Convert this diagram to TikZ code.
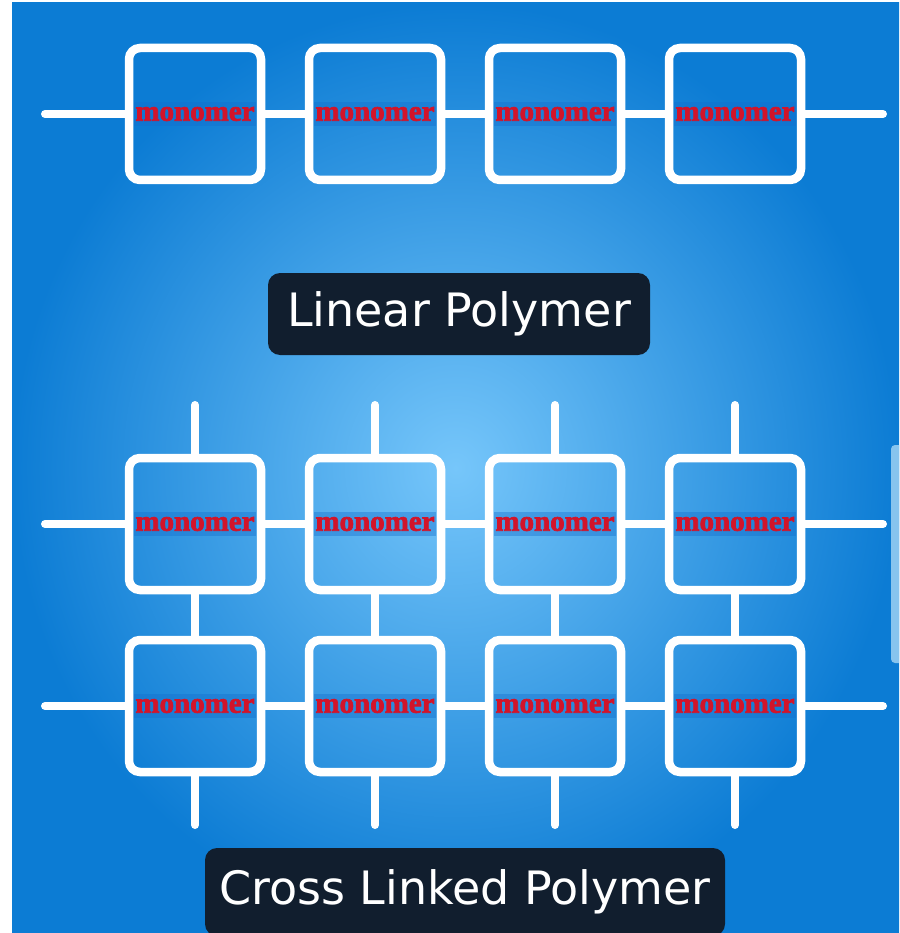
\documentclass[tikz,border=0pt]{standalone}
\usepackage{fontspec}
\usepackage{xcolor}
\usetikzlibrary{positioning}

\newfontfamily\capfont{DejaVu Sans}
\newfontfamily\mnfont[FakeBold=2.5]{Liberation Serif}

\definecolor{bgdark}{RGB}{12,124,212}
\definecolor{bglight}{RGB}{118,198,250}
\definecolor{bandblue}{RGB}{20,110,205}
\definecolor{monored}{RGB}{210,20,42}
\definecolor{navy}{RGB}{17,30,46}
\definecolor{barblue}{RGB}{135,196,238}

\begin{document}
\begin{tikzpicture}[x=1pt,y=-1pt,
  mono/.style={draw=white,line width=8.5pt,rounded corners=11pt,minimum size=132pt,inner sep=0pt,
    label={[tag]center:monomer}},
  tag/.style={fill=bandblue,fill opacity=0.4,text opacity=1,text=monored,inner xsep=1.5pt,inner ysep=5pt,
    font=\mnfont\bfseries\fontsize{29}{30}\selectfont},
  bond/.style={draw=white,line width=8pt,line cap=round},
  title/.style={fill=navy,rounded corners=12pt,text=white,font=\capfont\fontsize{46}{50}\selectfont}
]
\useasboundingbox (0,0) rectangle (899,933);
\clip (0,0) rectangle (899,933);

% page and blue backdrop
\fill[white] (0,0) rectangle (899,933);
\shade[inner color=bglight,outer color=bgdark] (12,3) rectangle (899,933);
\fill[barblue,rounded corners=4pt] (891,445) rectangle (903,663);

% linear chain
\foreach \i in {1,...,4}
  \node[mono] (l\i) at ({15+180*\i},114) {};
\coordinate (lin-w) at (45,114);
\coordinate (lin-e) at (883,114);
\draw[bond] (lin-w) -- (l1);
\foreach \i/\j in {1/2,2/3,3/4}
  \draw[bond] (l\i) -- (l\j);
\draw[bond] (l4) -- (lin-e);

\node[title,minimum width=382pt,minimum height=82pt] (lintitle) at (459,314) {Linear Polymer};

% cross linked network, two rows
\foreach \i in {1,...,4} {
  \node[mono] (a\i) at ({15+180*\i},524) {};
  \node[mono] (b\i) at ({15+180*\i},706) {};
  \coordinate (t\i) at ({15+180*\i},405);
  \coordinate (u\i) at ({15+180*\i},825);
  \draw[bond] (t\i) -- (a\i);
  \draw[bond] (a\i) -- (b\i);
  \draw[bond] (b\i) -- (u\i);
}
\foreach \r in {a,b} {
  \coordinate (\r-w) at (45,0 |- \r1);
  \coordinate (\r-e) at (883,0 |- \r1);
  \draw[bond] (\r-w) -- (\r1);
  \foreach \i/\j in {1/2,2/3,3/4}
    \draw[bond] (\r\i) -- (\r\j);
  \draw[bond] (\r4) -- (\r-e);
}

\node[title,minimum width=520pt,minimum height=88pt] (xtitle) at (465,892) {Cross Linked Polymer};
\end{tikzpicture}
\end{document}
